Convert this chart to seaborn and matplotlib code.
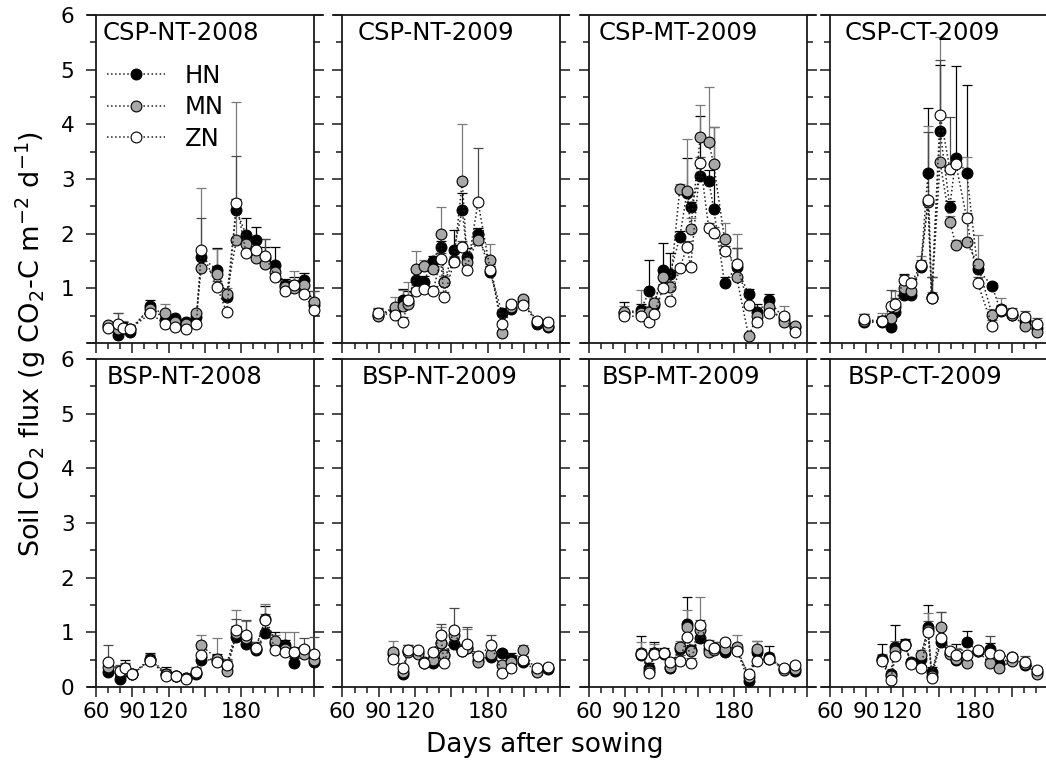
import numpy as np
import pandas as pd
import matplotlib
matplotlib.use("Agg")
import matplotlib.pyplot as plt
import seaborn as sns
from matplotlib.ticker import MultipleLocator, FixedLocator, FixedFormatter

# ---------------- data ----------------
series_names = ["HN", "MN", "ZN"]
panel_titles = ["CSP-NT-2008", "CSP-NT-2009", "CSP-MT-2009", "CSP-CT-2009",
                "BSP-NT-2008", "BSP-NT-2009", "BSP-MT-2009", "BSP-CT-2009"]
xtick_values = [60, 90, 120, 150, 180, 210, 240]
xtick_labels = ["60", "90", "120", "", "180", "", ""]
ytick_values = [0, 1, 2, 3, 4, 5, 6]
ytick_labels_top = ["", "1", "2", "3", "4", "5", "6"]
ytick_labels_bottom = ["0", "1", "2", "3", "4", "5", "6"]

# CSP-NT-2008
days_csp_nt_2008 = [70, 78, 82, 88, 105, 117, 125, 134, 143, 147, 160, 168, 176, 184, 192, 200, 208, 216, 224, 232, 240]
hn_csp_nt_2008 = [0.30, 0.15, 0.28, 0.21, 0.67, 0.42, 0.45, 0.38, 0.48, 1.58, 1.33, 0.84, 2.43, 1.98, 1.88, 1.55, 1.42, 1.07, 1.05, 1.15, 0.70]
mn_csp_nt_2008 = [0.33, 0.25, 0.30, 0.25, 0.63, 0.54, 0.38, 0.35, 0.54, 1.37, 1.27, 0.90, 1.88, 1.82, 1.56, 1.45, 1.30, 1.03, 1.01, 1.06, 0.75]
zn_csp_nt_2008 = [0.28, 0.34, 0.27, 0.26, 0.54, 0.35, 0.29, 0.26, 0.34, 1.70, 1.03, 0.56, 2.57, 1.65, 1.70, 1.60, 1.21, 0.95, 1.06, 0.90, 0.60]
hn_err_csp_nt_2008 = [0.05, 0.10, 0.10, 0.05, 0.11, 0.08, 0.05, 0.05, 0.05, 0.15, 0.40, 0.05, 0.20, 0.30, 0.25, 0.20, 0.33, 0.10, 0.15, 0.13, 0.10]
mn_err_csp_nt_2008 = [0.05, 0.30, 0.10, 0.05, 0.10, 0.18, 0.05, 0.05, 0.05, 1.46, 0.45, 0.10, 2.52, 0.20, 0.20, 0.45, 0.10, 0.10, 0.30, 0.10, 0.20]
zn_err_csp_nt_2008 = [0.05, 0.20, 0.05, 0.05, 0.05, 0.05, 0.05, 0.05, 0.05, 0.58, 0.10, 0.05, 0.85, 0.20, 0.20, 0.30, 0.15, 0.05, 0.10, 0.10, 0.36]

# CSP-NT-2009
days_csp_nt_2009 = [89, 103, 110, 114, 121, 127, 135, 141, 144, 152, 159, 163, 172, 182, 192, 199, 209, 221, 230]
hn_csp_nt_2009 = [0.52, 0.60, 0.78, 0.75, 1.15, 1.12, 1.50, 1.76, 1.12, 1.70, 2.44, 1.58, 2.00, 1.30, 0.54, 0.63, 0.75, 0.35, 0.29]
mn_csp_nt_2009 = [0.49, 0.66, 0.67, 0.72, 1.36, 1.41, 1.36, 2.00, 1.12, 1.50, 2.96, 1.48, 1.89, 1.51, 0.18, 0.66, 0.80, 0.38, 0.32]
zn_csp_nt_2009 = [0.54, 0.52, 0.38, 0.78, 0.96, 0.98, 0.95, 1.54, 0.84, 1.48, 1.76, 1.33, 2.58, 1.34, 0.35, 0.71, 0.70, 0.41, 0.38]
hn_err_csp_nt_2009 = [0.10, 0.10, 0.20, 0.20, 0.15, 0.10, 0.10, 0.10, 0.10, 0.36, 0.30, 0.15, 0.10, 0.10, 0.05, 0.10, 0.10, 0.05, 0.05]
mn_err_csp_nt_2009 = [0.15, 0.19, 0.30, 0.40, 0.32, 0.10, 0.15, 0.49, 0.10, 0.10, 1.04, 0.10, 0.15, 0.31, 0.05, 0.10, 0.05, 0.05, 0.05]
zn_err_csp_nt_2009 = [0.10, 0.10, 0.10, 0.10, 0.10, 0.10, 0.10, 0.10, 0.10, 0.10, 0.10, 0.10, 0.99, 0.10, 0.05, 0.05, 0.05, 0.05, 0.05]

# CSP-MT-2009
days_csp_mt_2009 = [89, 103, 110, 114, 121, 127, 135, 141, 144, 152, 159, 163, 172, 182, 192, 199, 209, 221, 230]
hn_csp_mt_2009 = [0.55, 0.61, 0.96, 0.70, 1.33, 1.26, 1.94, 2.75, 2.48, 3.06, 2.97, 2.46, 1.10, 1.39, 0.89, 0.57, 0.78, 0.44, 0.30]
mn_csp_mt_2009 = [0.57, 0.55, 0.57, 0.73, 1.21, 1.03, 2.81, 2.78, 2.08, 3.77, 3.67, 3.27, 1.91, 1.21, 0.12, 0.50, 0.65, 0.38, 0.32]
zn_csp_mt_2009 = [0.49, 0.49, 0.38, 0.53, 1.00, 0.76, 1.37, 1.76, 1.39, 3.30, 2.10, 2.02, 1.68, 1.45, 0.69, 0.38, 0.55, 0.49, 0.21]
hn_err_csp_mt_2009 = [0.20, 0.10, 0.55, 0.10, 0.50, 0.38, 0.10, 0.63, 0.10, 1.10, 0.20, 1.50, 0.10, 0.34, 0.10, 0.15, 0.12, 0.10, 0.05]
mn_err_csp_mt_2009 = [0.10, 0.42, 0.10, 0.10, 0.15, 0.10, 0.10, 0.96, 0.20, 0.59, 1.02, 0.69, 0.29, 0.79, 0.05, 0.10, 0.10, 0.30, 0.05]
zn_err_csp_mt_2009 = [0.05, 0.05, 0.05, 0.05, 0.05, 0.05, 0.05, 0.10, 0.05, 0.10, 0.10, 0.10, 0.10, 0.28, 0.05, 0.05, 0.05, 0.05, 0.05]

# CSP-CT-2009
days_csp_ct_2009 = [88, 103, 110, 114, 121, 127, 135, 141, 144, 151, 159, 164, 173, 182, 194, 201, 210, 221, 231]
hn_csp_ct_2009 = [0.38, 0.38, 0.30, 0.57, 0.87, 0.87, 1.39, 3.11, 0.85, 3.88, 2.49, 3.38, 3.11, 1.36, 1.04, 0.58, 0.52, 0.40, 0.28]
mn_csp_ct_2009 = [0.40, 0.40, 0.45, 0.65, 1.00, 0.95, 1.40, 2.58, 0.83, 3.31, 2.22, 1.79, 1.85, 1.45, 0.52, 0.63, 0.52, 0.32, 0.21]
zn_csp_ct_2009 = [0.43, 0.40, 0.67, 0.72, 1.15, 1.09, 1.42, 2.62, 0.82, 4.17, 3.19, 3.28, 2.28, 1.10, 0.32, 0.60, 0.54, 0.48, 0.35]
hn_err_csp_ct_2009 = [0.15, 0.10, 0.10, 0.10, 0.40, 0.30, 0.10, 1.18, 0.36, 1.21, 0.10, 1.69, 1.61, 0.10, 0.05, 0.10, 0.05, 0.05, 0.05]
mn_err_csp_ct_2009 = [0.10, 0.15, 0.10, 0.30, 0.10, 0.10, 0.20, 1.39, 0.10, 2.29, 0.10, 0.10, 1.56, 0.52, 0.10, 0.20, 0.05, 0.10, 0.05]
zn_err_csp_ct_2009 = [0.10, 0.10, 0.30, 0.10, 0.10, 0.10, 0.10, 1.24, 0.39, 1.01, 0.95, 0.10, 0.10, 0.10, 0.10, 0.10, 0.10, 0.10, 0.10]

# BSP-NT-2008
days_bsp_nt_2008 = [70, 80, 84, 90, 105, 118, 126, 134, 143, 147, 160, 168, 176, 184, 192, 200, 208, 216, 224, 232, 240]
hn_bsp_nt_2008 = [0.27, 0.15, 0.30, 0.24, 0.52, 0.24, 0.20, 0.17, 0.24, 0.49, 0.50, 0.38, 0.92, 0.79, 0.67, 0.99, 0.80, 0.76, 0.43, 0.65, 0.46]
mn_bsp_nt_2008 = [0.37, 0.28, 0.32, 0.24, 0.50, 0.23, 0.20, 0.16, 0.26, 0.76, 0.52, 0.30, 0.98, 0.90, 0.70, 1.25, 0.85, 0.70, 0.62, 0.61, 0.49]
zn_bsp_nt_2008 = [0.46, 0.30, 0.34, 0.24, 0.48, 0.21, 0.21, 0.15, 0.27, 0.59, 0.45, 0.41, 1.04, 0.96, 0.72, 1.23, 0.68, 0.64, 0.64, 0.70, 0.61]
hn_err_bsp_nt_2008 = [0.05, 0.10, 0.20, 0.05, 0.10, 0.12, 0.05, 0.05, 0.10, 0.30, 0.10, 0.10, 0.20, 0.10, 0.15, 0.50, 0.20, 0.10, 0.10, 0.10, 0.10]
mn_err_bsp_nt_2008 = [0.10, 0.10, 0.10, 0.05, 0.10, 0.10, 0.05, 0.05, 0.10, 0.19, 0.38, 0.20, 0.43, 0.30, 0.10, 0.27, 0.10, 0.30, 0.38, 0.10, 0.10]
zn_err_bsp_nt_2008 = [0.30, 0.10, 0.10, 0.05, 0.10, 0.10, 0.05, 0.05, 0.05, 0.10, 0.10, 0.10, 0.20, 0.26, 0.10, 0.10, 0.10, 0.10, 0.10, 0.20, 0.30]

# BSP-NT-2009
days_bsp_nt_2009 = [102, 110, 114, 122, 127, 135, 141, 144, 152, 159, 163, 172, 183, 192, 199, 209, 221, 230]
hn_bsp_nt_2009 = [0.60, 0.24, 0.66, 0.64, 0.43, 0.44, 0.80, 0.58, 0.78, 0.66, 0.72, 0.50, 0.54, 0.62, 0.52, 0.46, 0.30, 0.33]
mn_bsp_nt_2009 = [0.64, 0.28, 0.64, 0.61, 0.45, 0.50, 0.80, 0.58, 0.96, 0.68, 0.72, 0.46, 0.60, 0.40, 0.46, 0.67, 0.27, 0.35]
zn_bsp_nt_2009 = [0.52, 0.34, 0.67, 0.68, 0.43, 0.64, 0.96, 0.44, 1.04, 0.66, 0.79, 0.56, 0.76, 0.26, 0.34, 0.49, 0.34, 0.37]
hn_err_bsp_nt_2009 = [0.10, 0.05, 0.10, 0.05, 0.05, 0.10, 0.20, 0.10, 0.10, 0.10, 0.10, 0.10, 0.10, 0.05, 0.10, 0.10, 0.05, 0.05]
mn_err_bsp_nt_2009 = [0.20, 0.05, 0.10, 0.05, 0.05, 0.10, 0.30, 0.10, 0.10, 0.10, 0.35, 0.10, 0.20, 0.05, 0.10, 0.10, 0.05, 0.05]
zn_err_bsp_nt_2009 = [0.10, 0.05, 0.10, 0.05, 0.05, 0.05, 0.20, 0.05, 0.41, 0.10, 0.30, 0.05, 0.20, 0.05, 0.05, 0.05, 0.05, 0.05]

# BSP-MT-2009
days_bsp_mt_2009 = [103, 110, 114, 122, 127, 135, 141, 144, 152, 159, 163, 172, 182, 192, 199, 209, 221, 230]
hn_bsp_mt_2009 = [0.58, 0.34, 0.62, 0.61, 0.34, 0.70, 1.16, 0.67, 0.90, 0.70, 0.72, 0.64, 0.68, 0.11, 0.64, 0.55, 0.33, 0.29]
mn_bsp_mt_2009 = [0.62, 0.30, 0.63, 0.62, 0.36, 0.74, 1.10, 0.65, 1.04, 0.64, 0.68, 0.70, 0.73, 0.18, 0.70, 0.52, 0.31, 0.33]
zn_bsp_mt_2009 = [0.60, 0.26, 0.61, 0.62, 0.45, 0.48, 0.92, 0.43, 1.13, 0.76, 0.72, 0.82, 0.65, 0.24, 0.48, 0.52, 0.34, 0.40]
hn_err_bsp_mt_2009 = [0.35, 0.10, 0.20, 0.10, 0.05, 0.10, 0.48, 0.10, 0.10, 0.10, 0.10, 0.15, 0.10, 0.05, 0.20, 0.20, 0.05, 0.10]
mn_err_bsp_mt_2009 = [0.20, 0.05, 0.15, 0.05, 0.05, 0.10, 0.30, 0.10, 0.61, 0.15, 0.10, 0.10, 0.22, 0.05, 0.15, 0.10, 0.05, 0.05]
zn_err_bsp_mt_2009 = [0.10, 0.05, 0.10, 0.05, 0.05, 0.10, 0.20, 0.10, 0.10, 0.10, 0.10, 0.05, 0.10, 0.05, 0.10, 0.05, 0.05, 0.05]

# BSP-CT-2009
days_bsp_ct_2009 = [103, 110, 114, 122, 127, 135, 141, 144, 152, 159, 164, 173, 182, 192, 200, 210, 221, 231]
hn_bsp_ct_2009 = [0.52, 0.24, 0.74, 0.78, 0.46, 0.52, 1.09, 0.27, 0.82, 0.62, 0.49, 0.82, 0.66, 0.70, 0.42, 0.55, 0.40, 0.28]
mn_bsp_ct_2009 = [0.50, 0.20, 0.65, 0.76, 0.44, 0.58, 1.05, 0.20, 1.09, 0.60, 0.52, 0.44, 0.66, 0.43, 0.34, 0.48, 0.42, 0.24]
zn_bsp_ct_2009 = [0.48, 0.12, 0.56, 0.76, 0.42, 0.35, 1.01, 0.16, 0.89, 0.66, 0.59, 0.59, 0.67, 0.63, 0.58, 0.55, 0.46, 0.32]
hn_err_bsp_ct_2009 = [0.27, 0.05, 0.39, 0.10, 0.05, 0.10, 0.41, 0.10, 0.10, 0.10, 0.30, 0.20, 0.05, 0.10, 0.05, 0.05, 0.10, 0.05]
mn_err_bsp_ct_2009 = [0.10, 0.05, 0.20, 0.10, 0.05, 0.10, 0.30, 0.10, 0.28, 0.10, 0.20, 0.10, 0.05, 0.10, 0.10, 0.10, 0.05, 0.05]
zn_err_bsp_ct_2009 = [0.10, 0.05, 0.10, 0.05, 0.05, 0.05, 0.20, 0.10, 0.48, 0.05, 0.10, 0.05, 0.05, 0.30, 0.05, 0.05, 0.10, 0.05]

panels = [
    (days_csp_nt_2008, [hn_csp_nt_2008, mn_csp_nt_2008, zn_csp_nt_2008], [hn_err_csp_nt_2008, mn_err_csp_nt_2008, zn_err_csp_nt_2008]),
    (days_csp_nt_2009, [hn_csp_nt_2009, mn_csp_nt_2009, zn_csp_nt_2009], [hn_err_csp_nt_2009, mn_err_csp_nt_2009, zn_err_csp_nt_2009]),
    (days_csp_mt_2009, [hn_csp_mt_2009, mn_csp_mt_2009, zn_csp_mt_2009], [hn_err_csp_mt_2009, mn_err_csp_mt_2009, zn_err_csp_mt_2009]),
    (days_csp_ct_2009, [hn_csp_ct_2009, mn_csp_ct_2009, zn_csp_ct_2009], [hn_err_csp_ct_2009, mn_err_csp_ct_2009, zn_err_csp_ct_2009]),
    (days_bsp_nt_2008, [hn_bsp_nt_2008, mn_bsp_nt_2008, zn_bsp_nt_2008], [hn_err_bsp_nt_2008, mn_err_bsp_nt_2008, zn_err_bsp_nt_2008]),
    (days_bsp_nt_2009, [hn_bsp_nt_2009, mn_bsp_nt_2009, zn_bsp_nt_2009], [hn_err_bsp_nt_2009, mn_err_bsp_nt_2009, zn_err_bsp_nt_2009]),
    (days_bsp_mt_2009, [hn_bsp_mt_2009, mn_bsp_mt_2009, zn_bsp_mt_2009], [hn_err_bsp_mt_2009, mn_err_bsp_mt_2009, zn_err_bsp_mt_2009]),
    (days_bsp_ct_2009, [hn_bsp_ct_2009, mn_bsp_ct_2009, zn_bsp_ct_2009], [hn_err_bsp_ct_2009, mn_err_bsp_ct_2009, zn_err_bsp_ct_2009]),
]

# ---------------- style ----------------
sns.set_style("ticks")
plt.rcParams["font.family"] = ["DejaVu Sans"]
plt.rcParams["mathtext.fontset"] = "dejavusans"
plt.rcParams["text.color"] = "black"
plt.rcParams["axes.labelcolor"] = "black"
plt.rcParams["xtick.color"] = "black"
plt.rcParams["ytick.color"] = "black"

W, H = 1046, 764
fig = plt.figure(figsize=(W / 100, H / 100), dpi=100)

fills = ["#000000", "#a8a8a8", "#ffffff"]
err_colors = ["#000000", "#7a7a7a", "#4a4a4a"]
spine_color = "#1a1a1a"
px_per_day = 1.21
xpad = 7
col_x60 = [96, 342.5, 589, 830]       # pixel position of day 60 per column
row_top = [15, 359]                   # pixel position of y=6 per row
row_h = 328
ax_w = (180 + 2 * xpad) * px_per_day
title_offsets = [15.5, 24, 18.5, 23.5, 19, 27.7, 21.5, 26.5]

axes = []
for i, (days, vals, errs) in enumerate(panels):
    r, c = divmod(i, 4)
    left_px = col_x60[c] - xpad * px_per_day
    ax = fig.add_axes([left_px / W, 1 - (row_top[r] + row_h) / H, ax_w / W, row_h / H])
    axes.append(ax)

    handles = []
    for k, name in enumerate(series_names):
        df = pd.DataFrame({"day": days, "flux": vals[k], "err": errs[k]})
        ax.errorbar(df["day"], df["flux"], yerr=[np.zeros(len(df)), df["err"]],
                    fmt="none", ecolor=err_colors[k], elinewidth=0.9,
                    capsize=3.8, capthick=0.9, zorder=1 + k)
        sns.lineplot(data=df, x="day", y="flux", ax=ax, color="#202020",
                     linestyle=":", linewidth=1.1, marker="o", markersize=7.8,
                     markerfacecolor=fills[k], markeredgecolor="black",
                     markeredgewidth=0.8, errorbar=None, zorder=4 + k)
        handles.append(ax.lines[-1])
    if ax.get_legend() is not None:
        ax.get_legend().remove()

    ax.set_xlim(60 - xpad, 240 + xpad)
    ax.set_ylim(0, 6)
    ax.set_xlabel("")
    ax.set_ylabel("")
    ax.spines["left"].set_position(("data", 60))
    ax.spines["right"].set_position(("data", 240))
    for s in ax.spines.values():
        s.set_visible(True)
        s.set_color(spine_color)
        s.set_linewidth(1.3)

    ax.xaxis.set_major_locator(FixedLocator(xtick_values))
    ax.xaxis.set_minor_locator(MultipleLocator(10))
    ax.yaxis.set_major_locator(FixedLocator(ytick_values))
    ax.yaxis.set_minor_locator(MultipleLocator(0.5))
    ax.xaxis.set_major_formatter(FixedFormatter(xtick_labels))
    ax.yaxis.set_major_formatter(FixedFormatter(ytick_labels_top if r == 0 else ytick_labels_bottom))

    ax.tick_params(axis="both", which="both", direction="out", color=spine_color, width=1.1)
    ax.tick_params(axis="both", which="major", length=7.5, labelsize=15.5, pad=3)
    ax.tick_params(axis="both", which="minor", length=4)
    ax.tick_params(axis="y", which="major", pad=8)
    ax.tick_params(axis="y", which="both", left=True, right=True,
                   labelleft=(c == 0), labelright=False)
    ax.tick_params(axis="x", which="both", bottom=True, top=False,
                   labelbottom=(r == 1))

    ax.text(title_offsets[i] / ax_w, 0.982, panel_titles[i], transform=ax.transAxes,
            ha="left", va="top", fontsize=17.5, color="black")

    if i == 0:
        ax.legend(handles, series_names, loc="upper left",
                  bbox_to_anchor=((107 - left_px) / ax_w, 1 - (64 - 15) / row_h),
                  frameon=False, fontsize=17.5, handlelength=2.4,
                  handletextpad=0.8, labelspacing=0.3, borderpad=0, borderaxespad=0)

fig.text(31 / W, 1 - 344 / H, "Soil CO$_2$ flux (g CO$_2$-C m$^{-2}$ d$^{-1}$)",
         rotation=90, ha="center", va="center", fontsize=19.5)
fig.text(545 / W, 1 - 745 / H, "Days after sowing", ha="center", va="center", fontsize=19)

fig.savefig("out.png", dpi=100)
